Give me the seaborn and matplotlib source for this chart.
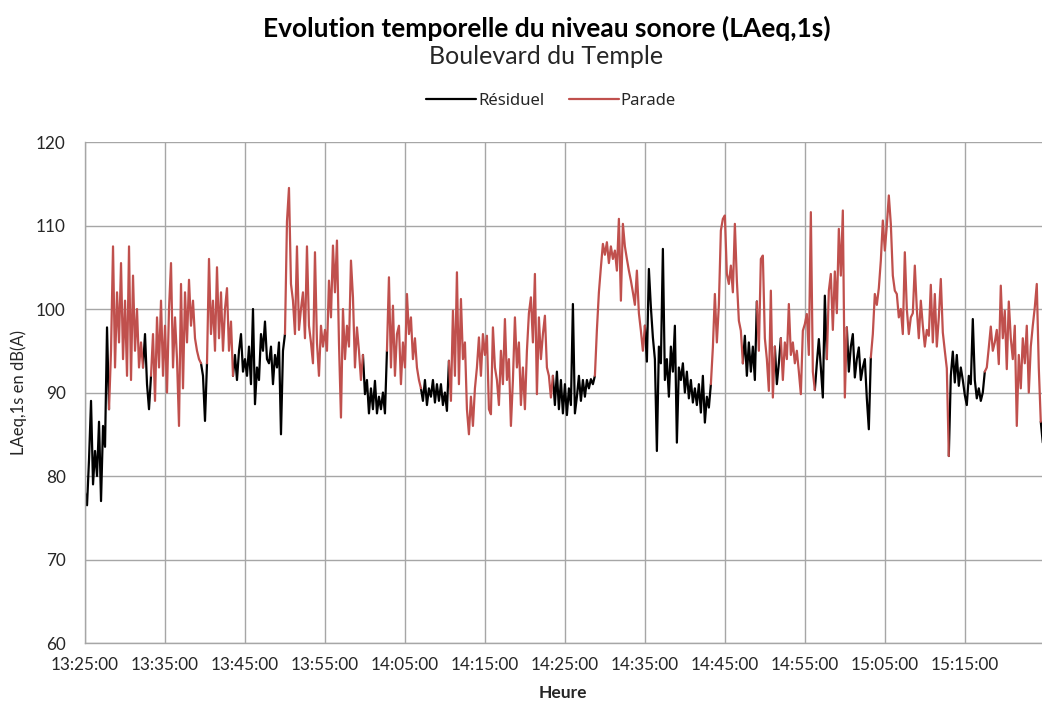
# Evolution temporelle du niveau sonore - Boulevard du Temple
import numpy as np
import pandas as pd
import matplotlib
matplotlib.use("Agg")
import matplotlib.pyplot as plt
import seaborn as sns

# ------------------------------------------
# DATA : LAeq,1s read every 15 s, one list per 10 minutes
# ------------------------------------------
start_time = "13:25:00"
step_seconds = 15

laeq_1325 = [78, 76.5, 82, 89, 79, 83, 80, 86.5, 77, 86, 83.5, 97.8,
             88, 95, 107.5, 93, 102, 96, 105.5, 94, 101, 92, 107.5, 91.5,
             104, 95, 100, 93, 96, 93, 97, 91, 88, 92, 97, 89, 99, 93, 101, 92]
laeq_1335 = [98, 90, 100, 105.5, 93, 99, 94, 86, 103, 90.5, 102, 96,
             103.5, 98, 101, 96.5, 95, 94, 93.5, 92, 86.6, 93.5, 106, 97,
             101, 95, 105, 96.5, 102, 95, 100, 102.5, 95, 98.5, 92, 94.5,
             91.5, 95, 97, 92.5]
laeq_1345 = [94, 92, 95.5, 91, 100, 88.6, 93, 91.5, 97, 95, 98.5, 94,
             93.5, 95.5, 91, 94.5, 93, 96, 85, 95, 97, 110.5, 114.5, 103,
             101, 97, 107.5, 97.5, 100, 102, 96.5, 107.5, 98, 96, 93.5,
             106.8, 96, 92, 98, 95.5]
laeq_1355 = [97.5, 95, 103.4, 99, 107.6, 102, 108.2, 96, 87, 100, 94, 98,
             95.5, 105.8, 101.4, 93, 97.8, 95, 91.5, 94.5, 89.8, 91.5, 87.5,
             90.5, 88, 91.4, 87.5, 89.5, 88, 90, 87.5, 95, 103.8, 93, 100.4,
             92, 97, 98, 91, 96]
laeq_1405 = [93, 101.8, 97, 99, 94, 96.5, 93, 91.5, 90.5, 89, 91.5, 88.5,
             90.5, 89.5, 91.5, 88.8, 91, 89, 91, 88.5, 90, 87.8, 93.8, 89,
             99.8, 92, 104.4, 91, 101.2, 94, 96, 88, 85, 89.5, 86, 90.5, 93,
             96.6, 92, 97]
laeq_1415 = [94.5, 96.8, 88, 87.4, 97.8, 93, 91.5, 88.5, 95, 91, 98.8, 91.5,
             94, 86, 91.5, 99, 93, 96, 88.5, 93, 88, 95, 99.5, 101.4, 96,
             104.2, 89.8, 99, 94, 97, 99.2, 93, 92, 89.4, 92, 88.5, 92.5, 88,
             91.5, 87.5]
laeq_1425 = [91, 87.3, 90.5, 88.5, 100.6, 87.5, 89.5, 92, 89, 91.5, 89.5,
             91.5, 90.5, 91.6, 91, 92, 97.5, 102, 105, 107.8, 106.5, 108,
             105.5, 107.5, 106, 107, 104.6, 110.8, 101, 110.2, 107.5, 106,
             104.6, 103.4, 102, 100.5, 104.6, 99.5, 97.4, 95]
laeq_1435 = [98, 93.7, 104.8, 100.2, 96.6, 94, 83, 95.5, 93.5, 107.2, 91.5,
             94, 89.5, 95.5, 92.5, 98, 84, 93, 91.5, 93.5, 90, 92.5, 89.3,
             91.5, 88.8, 90.5, 88.5, 91, 87.6, 92, 86.4, 89.5, 88.2, 91, 95.4,
             101.8, 96, 100.5, 109.4, 110.8]
laeq_1445 = [111.2, 104.2, 103, 105.2, 102, 110.2, 103.4, 98.6, 97.4, 93.5,
             96.8, 92, 96, 92.5, 95.5, 91.5, 100.9, 95, 106, 106.4, 96.5, 94,
             90.2, 102.2, 89.4, 95.5, 91, 93.5, 96.5, 91.5, 96, 94, 100.6,
             94.5, 96, 93.5, 95, 92.5, 89.8, 97.4]
laeq_1455 = [98.2, 99.4, 94.5, 111.6, 92.5, 90.3, 93.5, 96.4, 93, 89.4, 101.6,
             94, 102.2, 104.2, 97.5, 104.5, 99.5, 109.6, 104, 111.8, 89.4,
             97.8, 92.5, 95.5, 97, 91.8, 94, 95.4, 91.5, 93, 94, 89.3, 85.6,
             94.2, 97, 101.8, 100.5, 102.5, 105.8, 110.6]
laeq_1505 = [107, 110, 113.6, 110.2, 104, 102.2, 101.8, 99, 100, 97, 106.8,
             100, 97, 99, 99.5, 105.2, 100, 96.5, 101, 98, 95.5, 97.5, 96.8,
             102.9, 96, 101.8, 95.5, 99, 103.6, 97.2, 95, 92.9, 82.4, 92, 94.9,
             91.2, 94.5, 90.8, 93, 91.5]
laeq_1515 = [89.7, 88.5, 92, 91, 98.8, 91.5, 89.3, 90.5, 89, 90, 92.5, 93,
             95.4, 97.9, 95, 96, 97.5, 93.4, 102.8, 96.5, 99.8, 92.8, 100.9,
             96.5, 94, 98, 86, 94.5, 90.5, 96.5, 93.5, 98, 90, 95.5, 98,
             100.2, 103, 93, 86.5, 84]

# parade passages (start, end), everything else is residual noise
parade_periods = [("13:28:00", "13:32:00"), ("13:33:15", "13:39:15"),
                  ("13:40:15", "13:43:15"), ("13:50:00", "13:59:30"),
                  ("14:02:45", "14:06:45"), ("14:10:30", "14:23:15"),
                  ("14:28:45", "14:34:45"), ("14:43:15", "14:47:00"),
                  ("14:49:00", "14:51:00"), ("14:52:00", "14:56:00"),
                  ("14:57:45", "15:00:00"), ("15:03:15", "15:12:45"),
                  ("15:17:30", "15:24:15")]

tick_labels = ["13:25:00", "13:35:00", "13:45:00", "13:55:00", "14:05:00",
               "14:15:00", "14:25:00", "14:35:00", "14:45:00", "14:55:00",
               "15:05:00", "15:15:00"]

# ------------------------------------------
# BUILD TABLE
# ------------------------------------------
laeq = np.concatenate([laeq_1325, laeq_1335, laeq_1345, laeq_1355, laeq_1405,
                       laeq_1415, laeq_1425, laeq_1435, laeq_1445, laeq_1455,
                       laeq_1505, laeq_1515])
t0 = pd.Timestamp("2020-01-01 " + start_time)
times = t0 + pd.to_timedelta(np.arange(len(laeq)) * step_seconds, unit="s")
minutes = (times - t0).total_seconds() / 60

labels = np.array(["Résiduel"] * len(laeq), dtype=object)
for a, b in parade_periods:
    ta = pd.Timestamp("2020-01-01 " + a)
    tb = pd.Timestamp("2020-01-01 " + b)
    labels[(times >= ta) & (times <= tb)] = "Parade"

rows = []
seg = 0
for i in range(len(laeq)):
    if i > 0 and labels[i] != labels[i - 1]:
        # join the previous piece to this point
        rows.append((minutes[i], laeq[i], labels[i - 1], seg))
        seg += 1
    rows.append((minutes[i], laeq[i], labels[i], seg))
df = pd.DataFrame(rows, columns=["minute", "laeq", "serie", "segment"])

tick_pos = [(pd.Timestamp("2020-01-01 " + s) - t0).total_seconds() / 60 for s in tick_labels]

# ------------------------------------------
# PLOT
# ------------------------------------------
sns.set_theme(style="white")
plt.rcParams["font.family"] = ["Lato", "DejaVu Sans"]

fig = plt.figure(figsize=(10.42, 7.02), dpi=100)
ax = fig.add_axes([0.0816, 0.084, 0.918, 0.7137])

sns.lineplot(data=df, x="minute", y="laeq", hue="serie", units="segment",
             estimator=None, hue_order=["Résiduel", "Parade"],
             palette={"Résiduel": "black", "Parade": "#c0504d"},
             linewidth=1.6, ax=ax)

ax.set_xlim(0, 119.6)
ax.set_ylim(60, 120)
ax.set_yticks(range(60, 121, 10))
ax.set_xticks(tick_pos)
ax.set_xticklabels(tick_labels)
ax.grid(True, color="#a6a6a6", linewidth=1)
ax.set_axisbelow(True)
for side in ["top", "right"]:
    ax.spines[side].set_visible(False)
for side in ["left", "bottom"]:
    ax.spines[side].set_color("#a6a6a6")
    ax.spines[side].set_linewidth(1)
ax.tick_params(axis="both", length=0, labelsize=12.3, colors="#262626")
ax.tick_params(axis="y", pad=14)
ax.tick_params(axis="x", pad=10)

ax.set_ylabel("LAeq,1s en dB(A)", fontsize=12, color="#262626", labelpad=6)
ax.set_xlabel("Heure", fontsize=12.5, fontweight="bold", color="#262626", labelpad=9)

handles, labs = ax.get_legend_handles_labels()
ax.get_legend().remove()
fig.legend(handles, labs, loc="center", bbox_to_anchor=(0.529, 0.856), ncol=2,
           frameon=False, handlelength=3, columnspacing=1.5, handletextpad=0.1,
           prop={"family": ["Noto Sans", "DejaVu Sans"], "size": 12})

fig.text(0.5245, 0.960, "Evolution temporelle du niveau sonore (LAeq,1s)",
         ha="center", va="center", fontsize=19, fontweight="bold",
         family=["Lato", "DejaVu Sans"], color="black")
fig.text(0.5245, 0.919, "Boulevard du Temple", ha="center", va="center",
         fontsize=18, family=["Lato", "DejaVu Sans"], color="#262626")

fig.savefig("out.png", dpi=100, facecolor="white")
